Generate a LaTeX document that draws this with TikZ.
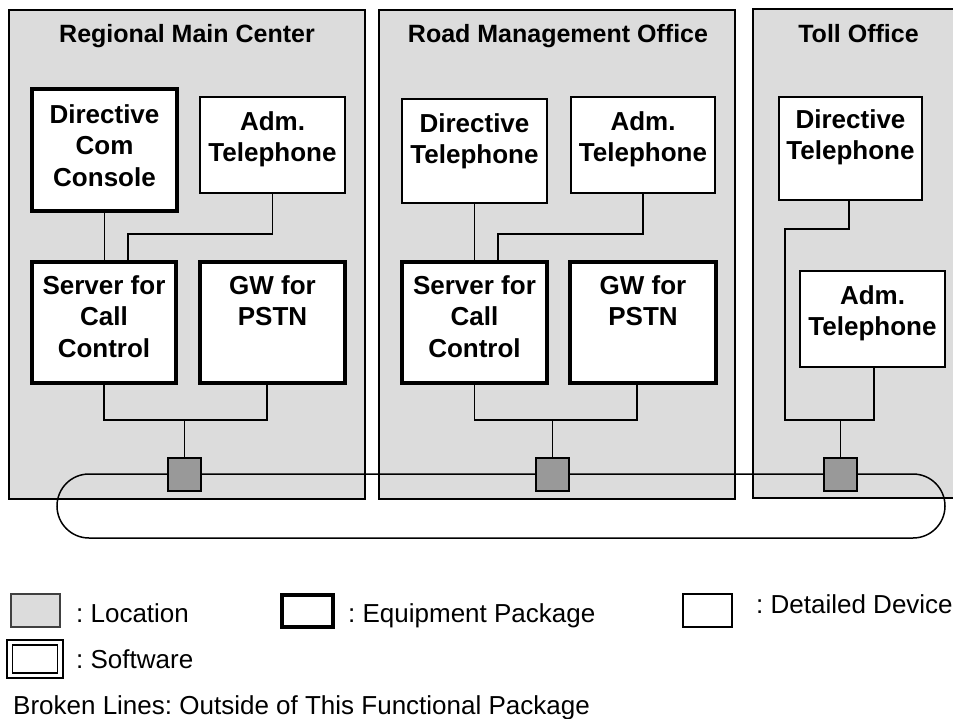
\documentclass[tikz,border=0pt]{standalone}
\usepackage{fontspec}
\setmainfont{Liberation Sans}
\usetikzlibrary{fit}
\definecolor{locgray}{RGB}{220,220,220}
\definecolor{portgray}{RGB}{153,153,153}
\begin{document}
\frenchspacing
\begin{tikzpicture}[x=1pt,y=-1pt,
  loc/.style={fill=locgray, draw=black, line width=1.6pt},
  equip/.style={draw=black, fill=white, line width=4pt, inner sep=0pt},
  dev/.style={draw=black, fill=white, line width=1.6pt, inner sep=0pt},
  wire/.style={draw=black, line width=1.5pt},
  port/.style={draw=black, fill=portgray, line width=1.5pt, minimum size=33pt, inner sep=0pt},
  title/.style={font=\fontsize{25}{30}\selectfont\bfseries, inner sep=0pt, anchor=base},
  btxt/.style={font=\fontsize{26}{31.5}\selectfont\bfseries, align=center, inner sep=0pt, anchor=north},
  ltxt/.style={font=\fontsize{26}{31}\selectfont\frenchspacing, inner sep=0pt, anchor=base west}]
\useasboundingbox (0,0) rectangle (953,718);

% ---------- locations ----------
\node[loc, inner sep=0pt, fit={(9,10) (365,499)}] (rmc) {};
\node[loc, inner sep=0pt, fit={(379,10) (735,499)}] (rmo) {};
\fill[locgray] (753,9) rectangle (953,498);
\draw[line width=1.6pt] (956,9) -- (753,9) -- (753,498) -- (956,498);
\coordinate (tollc) at (858.5,42);

\node[title] (rmct) at (187,42) {Regional Main Center};
\node[title] (rmot) at (558,42) {Road Management Office};
\node[title] (tollt) at (tollc) {Toll Office};

% ---------- Regional Main Center ----------
\node[equip, fit={(32,89) (177,211)}] (dcc) {};
\node[btxt] (dcct) at (104.5,101) {\strut Directive\\Com\\Console};
\node[dev, fit={(200,97) (345,193)}] (adm1) {};
\node[btxt] (adm1t) at (272.5,108) {\strut Adm.\\Telephone};
\node[equip, fit={(32,262) (176,383)}] (srv1) {};
\node[btxt] (srv1t) at (104,272) {\strut Server for\\Call\\Control};
\node[equip, fit={(200,262) (345,383)}] (gw1) {};
\node[btxt] (gw1t) at (272.5,272) {\strut GW for\\PSTN};

% ---------- Road Management Office ----------
\node[dev, fit={(402,99) (547,203)}] (dir2) {};
\node[btxt] (dir2t) at (474.5,110) {\strut Directive\\Telephone};
\node[dev, fit={(571,97) (715,193)}] (adm2) {};
\node[btxt] (adm2t) at (643,108) {\strut Adm.\\Telephone};
\node[equip, fit={(402,262) (547,383)}] (srv2) {};
\node[btxt] (srv2t) at (474.5,272) {\strut Server for\\Call\\Control};
\node[equip, fit={(570,262) (716,383)}] (gw2) {};
\node[btxt] (gw2t) at (643,272) {\strut GW for\\PSTN};

% ---------- Toll Office ----------
\node[dev, fit={(779,97) (922,200)}] (dir3) {};
\node[btxt] (dir3t) at (850.5,106) {\strut Directive\\Telephone};
\node[dev, fit={(800,271) (945,367)}] (adm3) {};
\node[btxt] (adm3t) at (872.5,282) {\strut Adm.\\Telephone};

% ---------- ring network and access ports ----------
\draw[wire, rounded corners=32pt] (57,474) rectangle (945,538);
\node[port] (sq1) at (184.5,474.5) {};
\node[port] (sq2) at (552.5,474.5) {};
\node[port] (sq3) at (840.5,474.5) {};

% ---------- wiring ----------
\coordinate (j1) at (128,234);
\coordinate (b1) at (184.5,420);
\draw[wire] (dcc.south) -- (dcc.south |- srv1.north);
\draw[wire] (adm1.south) |- (j1) -- (j1 |- srv1.north);
\draw[wire] (srv1.south) |- (b1) -| ([xshift=-5.5pt]gw1.south);
\draw[wire] (b1) -- (sq1.north);

\coordinate (j2) at (498,234);
\coordinate (b2) at (552.5,420);
\draw[wire] (dir2.south) -- (dir2.south |- srv2.north);
\draw[wire] (adm2.south) |- (j2) -- (j2 |- srv2.north);
\draw[wire] (srv2.south) |- (b2) -| ([xshift=-6pt]gw2.south);
\draw[wire] (b2) -- (sq2.north);

\coordinate (j3) at (785,229);
\coordinate (j4) at (785,420);
\coordinate (b3) at (840.5,420);
\draw[wire] ([xshift=-1.5pt]dir3.south) |- (j3) -- (j4) -| ([xshift=1.5pt]adm3.south);
\draw[wire] (b3) -- (sq3.north);

% ---------- legend ----------
\node[fill=locgray, draw=black!75, line width=1.2pt, inner sep=0pt, fit={(11,594) (60,627)}] (lgloc) {};
\node[ltxt] (lgloct) at (76,622) {: Location};
\node[equip, fit={(282,595) (333,627)}] (lgeq) {};
\node[ltxt] (lgeqt) at (348,622) {: Equipment Package};
\node[dev, fit={(683,594) (732,627)}] (lgdev) {};
\node[ltxt] (lgdevt) at (756,613) {: Detailed Device};
\node[dev, fit={(7,640) (63,678)}] (lgsw) {};
\node[dev, fit={(12.5,645) (57.5,673)}] (lgswin) {};
\node[ltxt] (lgswt) at (76,668) {: Software};
\node[ltxt] (lgbrk) at (13,714) {Broken Lines: Outside of This Functional Package};
\end{tikzpicture}
\end{document}
